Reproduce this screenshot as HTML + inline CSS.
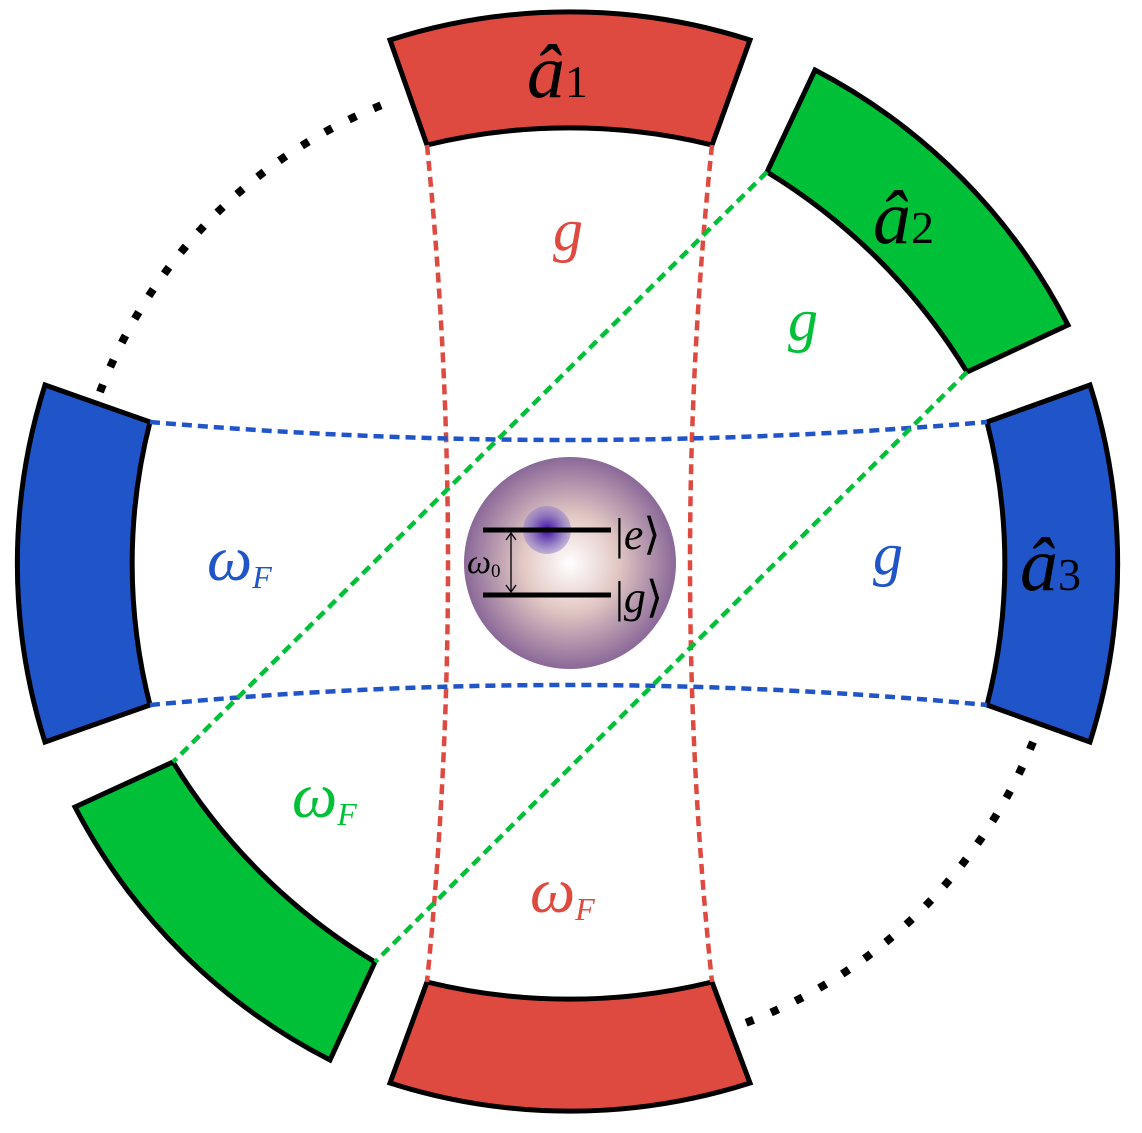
<!DOCTYPE html>
<html><head><meta charset="utf-8"><style>html,body{margin:0;padding:0;background:#fff}svg{display:block}</style></head>
<body>
<svg width="1142" height="1133" viewBox="0 0 1142 1133" xmlns="http://www.w3.org/2000/svg">
<defs>
<radialGradient id="sph" cx="570" cy="563" r="106" gradientUnits="userSpaceOnUse">
<stop offset="0" stop-color="#ffffff"/>
<stop offset="0.45" stop-color="#e2c8c4"/>
<stop offset="1" stop-color="#8a6898"/>
</radialGradient>
<radialGradient id="blob" cx="547" cy="530" r="24" gradientUnits="userSpaceOnUse">
<stop offset="0" stop-color="#3a0aa0"/>
<stop offset="0.5" stop-color="#6a4ab8" stop-opacity="0.8"/>
<stop offset="1" stop-color="#9080c8" stop-opacity="0.5"/>
</radialGradient>
</defs>
<g fill="none" stroke="#000" stroke-width="8" stroke-dasharray="8 19">
<path d="M100,392 A500,500 0 0 1 395,100"/>
<path d="M1033,742 A500,500 0 0 1 740,1025"/>
</g>
<g stroke="#000" stroke-width="5" stroke-linejoin="miter">
<path fill="#df4a40" d="M390,40 A590,590 0 0 1 750,40 L712,145 A600,600 0 0 0 427,145 Z"/>
<path fill="#00c037" d="M815,70 A590,590 0 0 1 1068,325 L967,372 A600,600 0 0 0 767,172 Z"/>
<path fill="#1f55c8" d="M1090,385 A590,590 0 0 1 1090,742 L987,705 A570,570 0 0 0 987,422 Z"/>
<path fill="#df4a40" d="M750,1083 A590,590 0 0 1 390,1083 L427,982 A600,600 0 0 0 712,982 Z"/>
<path fill="#00c037" d="M330,1060 A590,590 0 0 1 75,807 L173,762 A600,600 0 0 0 375,962 Z"/>
<path fill="#1f55c8" d="M45,742 A590,590 0 0 1 45,385 L150,422 A570,570 0 0 0 150,705 Z"/>
</g>
<g fill="none" stroke-width="4.5" stroke-dasharray="10 6">
<path stroke="#df4a40" d="M427,145 Q469,563 427,982"/>
<path stroke="#df4a40" d="M712,145 Q668,563 712,982"/>
<path stroke="#1f55c8" d="M150,422 Q568,458 987,422"/>
<path stroke="#1f55c8" d="M150,705 Q568,665 987,705"/>
<path stroke="#00c037" d="M767,172 L173,762"/>
<path stroke="#00c037" d="M967,372 L375,962"/>
</g>
<circle cx="570" cy="563" r="106" fill="url(#sph)"/>
<circle cx="547" cy="530" r="24" fill="url(#blob)"/>
<g stroke="#000" stroke-width="5">
<line x1="483" y1="530" x2="611" y2="530"/>
<line x1="483" y1="595" x2="611" y2="595"/>
</g>
<line x1="511" y1="534" x2="511" y2="591" stroke="#000" stroke-width="1.3"/>
<path d="M506,540 L511,533 L516,540 M506,585 L511,592 L516,585" fill="none" stroke="#000" stroke-width="1.3"/>
<g font-family="Liberation Serif, serif" font-style="italic">
<text x="467" y="573" font-size="34">ω<tspan font-size="19" font-style="normal" dy="4">0</tspan></text>
<text x="615" y="549" font-size="44" font-style="normal">|<tspan font-style="italic">e</tspan>⟩</text>
<text x="615" y="612" font-size="44" font-style="normal">|<tspan font-style="italic">g</tspan>⟩</text>
<text x="527" y="97" font-size="76">â<tspan font-style="normal" font-size="46">1</tspan></text>
<text x="873" y="243" font-size="76">â<tspan font-style="normal" font-size="46">2</tspan></text>
<text x="1020" y="590" font-size="76">â<tspan font-style="normal" font-size="46">3</tspan></text>
<text x="553" y="250" font-size="60" fill="#df4a40">g</text>
<text x="788" y="340" font-size="60" fill="#00c037">g</text>
<text x="873" y="574" font-size="60" fill="#1f55c8">g</text>
<text x="207" y="580" font-size="64" fill="#1f55c8">ω<tspan font-size="32" dy="8">F</tspan></text>
<text x="292" y="817" font-size="64" fill="#00c037">ω<tspan font-size="32" dy="8">F</tspan></text>
<text x="530" y="912" font-size="64" fill="#df4a40">ω<tspan font-size="32" dy="8">F</tspan></text>
</g>
</svg>
</body></html>
